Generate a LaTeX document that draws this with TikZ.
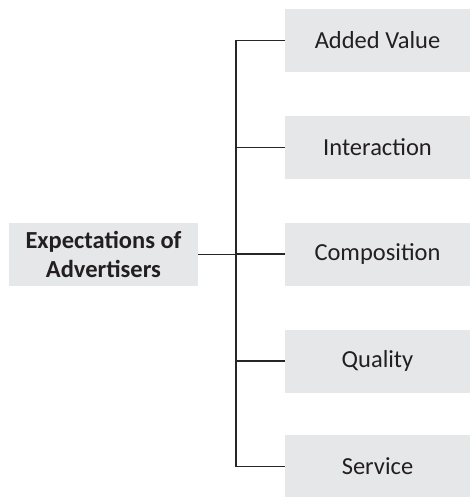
\documentclass[tikz,border=0pt]{standalone}
\usepackage{fontspec}
\setmainfont{Carlito}
\definecolor{boxgray}{HTML}{E6E7E8}
\definecolor{txtgray}{HTML}{231F20}
\begin{document}
\begin{tikzpicture}[x=1pt,y=-1pt,
  itembox/.style={fill=boxgray,minimum width=185pt,minimum height=63pt,inner sep=0pt,
    font=\fontsize{24.5}{29}\selectfont,text=txtgray},
  rootbox/.style={fill=boxgray,minimum width=189pt,minimum height=63pt,inner sep=0pt,
    font=\fontsize{24.5}{29}\selectfont\bfseries,text=txtgray,align=center},
  conn/.style={draw=black!85,line width=1.1pt}]
\useasboundingbox (0,0) rectangle (470,497);
\node[rootbox] (root) at (103.5,254.5) {Expectations of\\Advertisers};
\node[itembox] (a) at (377.5,40.5) {Added Value};
\node[itembox] (b) at (377.5,147.5) {Interaction};
\node[itembox] (c) at (377.5,254) {Composition};
\node[itembox] (d) at (377.5,361) {Quality};
\node[itembox] (e) at (377.5,466.5) {Service};
\coordinate (top) at (236,40.5);
\coordinate (bot) at (236,466.5);
\draw[conn] (a.west) -- (top) -- (bot) -- (e.west);
\draw[conn] (root.east) -- (root.east -| top);
\draw[conn] (b.west) -- (b.west -| top);
\draw[conn] (c.west) -- (c.west -| top);
\draw[conn] (d.west) -- (d.west -| top);
\end{tikzpicture}
\end{document}
